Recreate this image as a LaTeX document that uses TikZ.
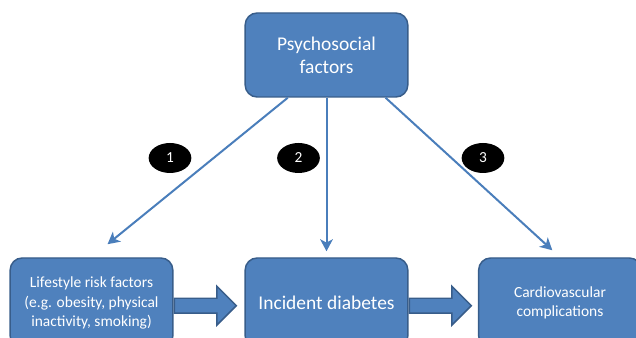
\documentclass[tikz,border=0pt]{standalone}
\usepackage{fontspec}
\setmainfont{Carlito}
\usetikzlibrary{arrows.meta,shapes.arrows,shapes.geometric,positioning,calc}
\definecolor{boxblue}{HTML}{4F81BD}
\definecolor{boxline}{HTML}{385D8A}
\definecolor{lineblue}{HTML}{4A7EBB}
\tikzset{
  factorbox/.style={draw=boxline,line width=1.1pt,fill=boxblue,rounded corners=9pt,
    text=white,align=center,minimum width=122pt,inner sep=2pt},
  pathnum/.style={ellipse,fill=black,text=white,font=\fontsize{11.5}{13}\selectfont,
    minimum width=32pt,minimum height=22.5pt,inner sep=0pt},
  pathline/.style={draw=lineblue,line width=1.5pt,-{Stealth[length=9pt,width=9.5pt,inset=2.5pt]}},
  fatarrow/.style={single arrow,draw=boxline,line width=1.1pt,fill=boxblue,
    minimum height=46.5pt,minimum width=0pt,inner sep=5pt,single arrow head extend=9pt}
}
\begin{document}
\begin{tikzpicture}[x=0.75pt,y=-0.75pt]
    \useasboundingbox (0,0) rectangle (636,338);
    % boxes
    \node [factorbox,minimum height=63pt,font=\fontsize{14.6}{17.5}\selectfont] (psych) at (326.5,55) {Psychosocial\\factors};
    \node [factorbox,minimum height=67.5pt,font=\fontsize{11.6}{14.6}\selectfont] (life) at (91.5,303) {Lifestyle risk factors\\(e.g. obesity, physical\\inactivity, smoking)};
    \node [factorbox,minimum height=67.5pt,font=\fontsize{14.6}{17.5}\selectfont] (diab) at (326.5,303) {Incident diabetes};
    \node [factorbox,minimum height=67.5pt,font=\fontsize{11.6}{14.3}\selectfont] (card) at (560,303) {Cardiovascular\\complications};
    % block arrows
    \node [fatarrow,right=0pt of life,yshift=-2pt] (lifearrow) {};
    \node [fatarrow,right=0pt of diab,yshift=-2pt] (diabarrow) {};
    % paths
    \coordinate (out1) at ($(psych.south west)!0.264!(psych.south east)$);
    \coordinate (out2) at (psych.south);
    \coordinate (out3) at ($(psych.south west)!0.86!(psych.south east)$);
    \draw [pathline,shorten >=15.5pt] (out1) -- (life.north);
    \draw [pathline,shorten >=4.5pt] (out2) -- (diab.north);
    \draw [pathline,shorten >=7.8pt] (out3) -- (card.north);
    \node [pathnum] (num1) at (170,158) {1};
    \node [pathnum] (num2) at (298.5,158) {2};
    \node [pathnum] (num3) at (483,158) {3};
\end{tikzpicture}
\end{document}
